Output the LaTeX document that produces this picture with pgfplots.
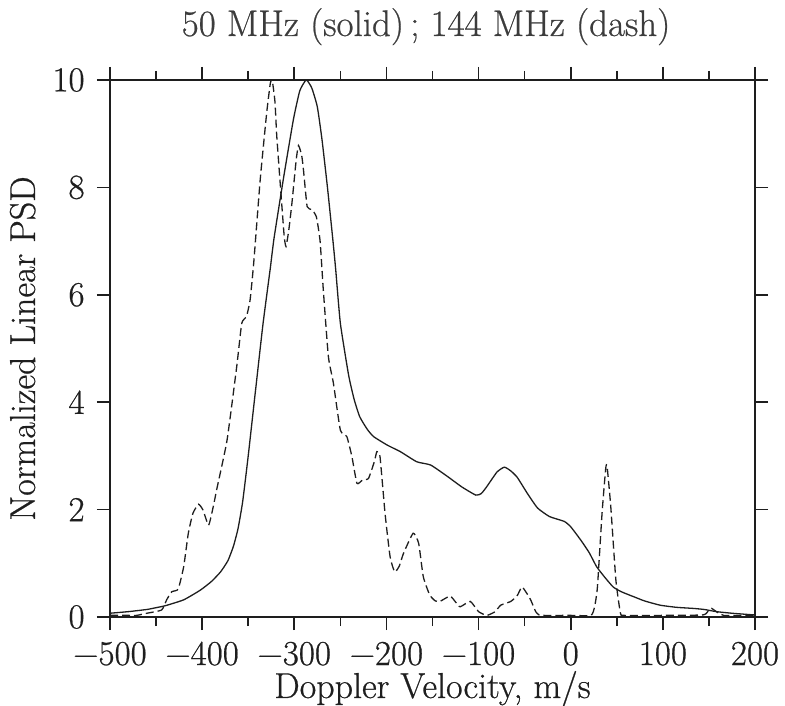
\documentclass[border=0pt]{standalone}
\usepackage{fontspec}
\setmainfont{Latin Modern Roman}[FakeBold=0.6]
\usepackage{pgfplots}
\pgfplotsset{compat=1.18}
\definecolor{ink}{HTML}{1E1E1E}
\definecolor{titleink}{HTML}{3C3C3C}
\begin{document}
\begin{tikzpicture}
\path[use as bounding box] (-55pt,-44pt) rectangle (337.5pt,308.5pt);
\begin{axis}[
  scale only axis, width=322.5pt, height=268.5pt,
  at={(0,0)}, anchor=south west,
  xmin=-500, xmax=200, ymin=0, ymax=10,
  xtick={-500,-400,...,200}, minor xtick={-450,-350,...,150},
  xticklabels={−500,−400,−300,−200,−100,0,100,200},
  ytick={0,2,...,10},
  yticklabels={0,2,4,6,8,10},
  tick align=outside,
  major tick length=6.5pt, minor tick length=4.5pt,
  every tick/.style={line width=0.8pt, ink},
  axis line style={line width=1pt, ink},
  tick label style={font=\fontsize{17.5}{19}\selectfont, text=ink, inner sep=1pt},
  xticklabel style={anchor=base, yshift=-17.5pt},
  yticklabel style={anchor=east, xshift=-5pt},
  label style={font=\fontsize{18}{21}\selectfont, text=ink, inner sep=1pt},
  xlabel={Doppler Velocity, m/s},
  ylabel={Normalized Linear PSD},
  xlabel style={at={(axis description cs:0.5,-0.1508)}, anchor=base},
  ylabel style={at={(axis description cs:-0.1163,0.5)}, anchor=base},
  every axis title shift=0pt,
  title={50 MHz (solid)\,; 144 MHz (dash)},
  title style={font=\fontsize{18.5}{21}\selectfont, text=titleink, inner sep=1pt, at={(axis description cs:0.49,1.082)}, anchor=base},
  clip=false,
]
\addplot[ink, line width=0.65pt, smooth, tension=0.3] coordinates {
(-500,0.07) (-480,0.1) (-460,0.14) (-451,0.17) (-440,0.21) (-420,0.32) (-402,0.5) (-390,0.66) (-380,0.84) (-372,1.05) (-366,1.32) (-361,1.65) (-356,2.15) (-350,3.0) (-342,4.23) (-334,5.45) (-326,6.5) (-322,7.05) (-312,8.14) (-301,9.26) (-294,9.8) (-287,10) (-281,9.85) (-275,9.5) (-270,8.9) (-264,8.0) (-258,7.0) (-255,6.46) (-250,5.47) (-241,4.5) (-235,4.05) (-229,3.73) (-221,3.5) (-214,3.36) (-199,3.2) (-185,3.08) (-167,2.89) (-152,2.83) (-134,2.62) (-118,2.42) (-103,2.27) (-97,2.3) (-91,2.43) (-80,2.7) (-72,2.79) (-65,2.72) (-58,2.6) (-47,2.3) (-36,2.03) (-23,1.87) (-7,1.78) (0,1.68) (11,1.43) (20,1.2) (28,0.94) (36,0.76) (46,0.56) (55,0.47) (68,0.38) (80,0.3) (97,0.22) (115,0.18) (133,0.16) (145,0.14) (158,0.1) (175,0.07) (198,0.04) (200,0.04)
};
\addplot[ink, line width=0.65pt, dash pattern=on 4pt off 2pt, smooth, tension=0.3] coordinates {
(-500,0.03) (-480,0.03) (-471,0.03) (-460,0.07) (-444,0.13) (-438.5,0.32) (-433,0.47) (-426,0.52) (-420,0.94) (-415,1.56) (-410,1.93) (-404,2.1) (-399,1.99) (-393,1.71) (-388,2.05) (-384,2.39) (-373,3.29) (-362.5,4.66) (-357,5.47) (-352,5.59) (-348,5.9) (-344,6.6) (-337,8.14) (-330,9.38) (-326,9.94) (-324,10) (-321,9.6) (-319,8.95) (-315,8.01) (-311,7.1) (-309,6.9) (-306,7.2) (-302.6,7.7) (-298,8.5) (-295.5,8.78) (-292,8.6) (-290,8.32) (-286,7.64) (-281,7.59) (-276,7.45) (-272,7.0) (-268.5,6.09) (-263,4.85) (-257.5,4.35) (-250,3.48) (-243,3.36) (-237.5,2.99) (-232,2.49) (-226,2.55) (-219.5,2.58) (-213,2.9) (-210.4,3.08) (-207,2.99) (-201.5,1.93) (-196,1.12) (-191,0.84) (-186,0.95) (-181.6,1.18) (-171,1.56) (-165,1.37) (-160,0.75) (-153,0.41) (-147,0.3) (-142,0.29) (-131,0.39) (-125,0.28) (-120,0.19) (-109,0.29) (-100,0.1) (-91,0.03) (-82,0.1) (-76,0.22) (-65,0.29) (-58,0.4) (-53,0.56) (-48,0.45) (-43.5,0.32) (-38,0.1) (-34.5,0.04) (-30,0.03) (0,0.03) (22,0.03) (26,0.2) (29,0.56) (34,1.93) (38,2.77) (39.5,2.8) (43.5,2.05) (49,0.69) (54,0.07) (58,0.03) (100,0.03) (144,0.04) (150,0.14) (153,0.16) (158,0.1) (166,0.03) (200,0.03)
};
\end{axis}
\end{tikzpicture}
\end{document}
